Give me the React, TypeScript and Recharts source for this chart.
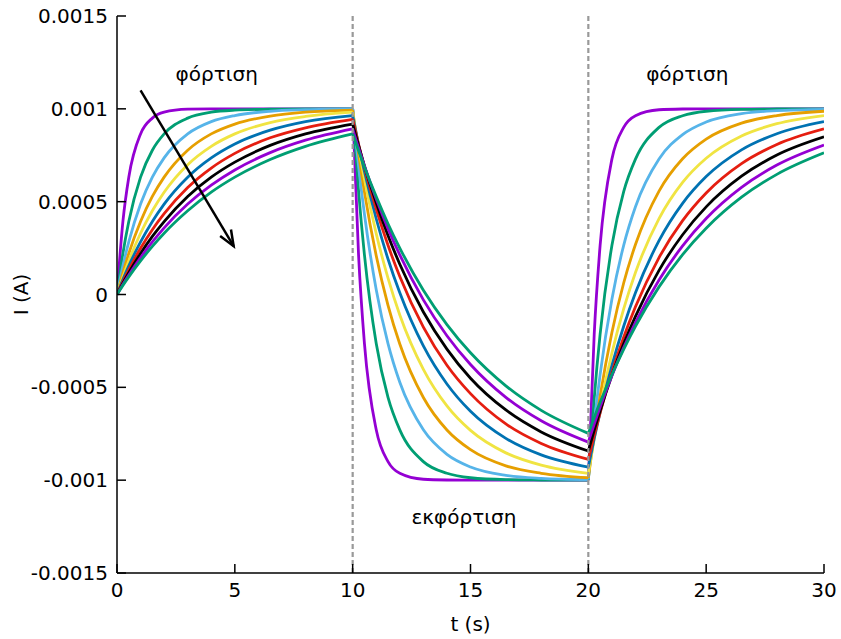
import React from 'react';
import { LineChart, Line, XAxis, YAxis, ReferenceLine, ReferenceDot, Label } from 'recharts';

// time offsets (s) inside each 10 s half-period
const OFFSETS = [0, 0.25, 0.5, 1, 1.5, 2, 3, 4, 5, 6.5, 8, 10];
const SEGMENT_START = [0, 10, 20];

const COLORS = ['#9400d3', '#009e73', '#56b4e9', '#e69f00', '#f0e442', '#0072b2', '#e51e10', '#000000', '#9400d3', '#009e73'];

// current in mA, one row per curve (fastest first)
const CHARGE_1 = [
  [0, 0.393, 0.632, 0.865, 0.950, 0.982, 0.998, 1.000, 1.000, 1.000, 1.000, 1.000],
  [0, 0.221, 0.393, 0.632, 0.777, 0.865, 0.950, 0.982, 0.993, 0.998, 1.000, 1.000],
  [0, 0.154, 0.283, 0.487, 0.632, 0.736, 0.865, 0.931, 0.964, 0.987, 0.995, 0.999],
  [0, 0.117, 0.221, 0.393, 0.528, 0.632, 0.777, 0.865, 0.918, 0.961, 0.982, 0.993],
  [0, 0.095, 0.181, 0.330, 0.451, 0.551, 0.699, 0.798, 0.865, 0.926, 0.959, 0.982],
  [0, 0.080, 0.154, 0.283, 0.393, 0.487, 0.632, 0.736, 0.811, 0.885, 0.931, 0.964],
  [0, 0.069, 0.133, 0.249, 0.349, 0.435, 0.576, 0.681, 0.760, 0.844, 0.898, 0.943],
  [0, 0.061, 0.117, 0.221, 0.313, 0.393, 0.528, 0.632, 0.713, 0.803, 0.865, 0.918],
  [0, 0.054, 0.105, 0.199, 0.283, 0.359, 0.487, 0.589, 0.671, 0.764, 0.831, 0.892],
  [0, 0.049, 0.095, 0.181, 0.259, 0.330, 0.451, 0.551, 0.632, 0.727, 0.798, 0.865],
];

const DISCHARGE = [
  [1.000, 0.213, -0.264, -0.729, -0.900, -0.963, -0.995, -0.999, -1.000, -1.000, -1.000, -1.000],
  [1.000, 0.558, 0.213, -0.264, -0.554, -0.729, -0.900, -0.963, -0.987, -0.997, -0.999, -1.000],
  [0.999, 0.692, 0.432, 0.026, -0.265, -0.473, -0.729, -0.861, -0.929, -0.974, -0.990, -0.997],
  [0.993, 0.759, 0.552, 0.209, -0.058, -0.267, -0.555, -0.730, -0.836, -0.923, -0.963, -0.987],
  [0.982, 0.793, 0.622, 0.328, 0.088, -0.110, -0.403, -0.600, -0.732, -0.853, -0.919, -0.964],
  [0.964, 0.807, 0.663, 0.408, 0.191, 0.009, -0.277, -0.482, -0.629, -0.775, -0.864, -0.930],
  [0.943, 0.809, 0.684, 0.460, 0.265, 0.097, -0.176, -0.381, -0.534, -0.697, -0.802, -0.888],
  [0.918, 0.802, 0.693, 0.494, 0.318, 0.163, -0.094, -0.294, -0.451, -0.622, -0.740, -0.843],
  [0.892, 0.789, 0.693, 0.515, 0.355, 0.213, -0.029, -0.222, -0.377, -0.554, -0.680, -0.795],
  [0.865, 0.774, 0.687, 0.527, 0.381, 0.250, 0.023, -0.162, -0.314, -0.492, -0.624, -0.748],
];

const CHARGE_2 = [
  [-1.000, -0.213, 0.264, 0.729, 0.900, 0.963, 0.995, 0.999, 1.000, 1.000, 1.000, 1.000],
  [-1.000, -0.558, -0.213, 0.264, 0.554, 0.729, 0.900, 0.963, 0.987, 0.997, 0.999, 1.000],
  [-0.997, -0.691, -0.431, -0.026, 0.265, 0.473, 0.730, 0.861, 0.929, 0.974, 0.990, 0.997],
  [-0.987, -0.753, -0.547, -0.205, 0.062, 0.269, 0.557, 0.731, 0.837, 0.923, 0.964, 0.987],
  [-0.964, -0.777, -0.608, -0.316, -0.078, 0.118, 0.409, 0.604, 0.734, 0.854, 0.920, 0.964],
  [-0.930, -0.776, -0.634, -0.383, -0.171, 0.009, 0.290, 0.491, 0.635, 0.779, 0.866, 0.931],
  [-0.888, -0.758, -0.637, -0.419, -0.230, -0.066, 0.199, 0.398, 0.547, 0.705, 0.808, 0.892],
  [-0.843, -0.731, -0.626, -0.435, -0.266, -0.118, 0.130, 0.322, 0.472, 0.637, 0.751, 0.849],
  [-0.795, -0.698, -0.606, -0.437, -0.286, -0.151, 0.078, 0.262, 0.409, 0.577, 0.697, 0.805],
  [-0.748, -0.662, -0.581, -0.431, -0.295, -0.171, 0.041, 0.215, 0.357, 0.524, 0.647, 0.763],
];

const X_TICKS = [0, 5, 10, 15, 20, 25, 30];
const Y_TICKS = [-0.0015, -0.001, -0.0005, 0, 0.0005, 0.001, 0.0015];

const FONT = 'DejaVu Sans, Verdana, sans-serif';
const FS = 20;

const segments = [CHARGE_1, DISCHARGE, CHARGE_2];
const series: { key: string; color: string; data: { t: number; I: number }[] }[] = [];
COLORS.forEach((color, c) => {
  segments.forEach((seg, s) => {
    series.push({
      key: `c${c}s${s}`,
      color,
      data: OFFSETS.map((d, i) => ({ t: SEGMENT_START[s] + d, I: seg[c][i] / 1000 })),
    });
  });
});

const Arrow = (props: any) => {
  const { x1, y1, x2, y2 } = props;
  if (x1 == null) return null;
  const ang = Math.atan2(y2 - y1, x2 - x1);
  const len = 17;
  const spread = 0.38;
  const ax = x2 - len * Math.cos(ang - spread);
  const ay = y2 - len * Math.sin(ang - spread);
  const bx = x2 - len * Math.cos(ang + spread);
  const by = y2 - len * Math.sin(ang + spread);
  return (
    <g stroke="#000" strokeWidth={2.5} fill="none">
      <line x1={x1} y1={y1} x2={x2} y2={y2} />
      <path d={`M${ax},${ay} L${x2},${y2} L${bx},${by}`} />
    </g>
  );
};

const note = (text: string) => (p: any) => (
  <text x={p.cx} y={p.cy} textAnchor="middle" dominantBaseline="central" fontSize={FS} fontFamily={FONT} fill="#000">
    {text}
  </text>
);

const axisStroke = { stroke: '#000', strokeWidth: 1.5 };

export default function App() {
  return (
    <div style={{ position: 'absolute', left: 0, top: 0 }}>
      <LineChart width={841} height={639} margin={{ top: 16, right: 17, bottom: 0, left: 0 }} style={{ fontFamily: FONT }}>
        <XAxis
          dataKey="t"
          type="number"
          domain={[0, 30]}
          ticks={X_TICKS}
          height={66}
          tickSize={-9}
          tickMargin={19}
          axisLine={axisStroke}
          tickLine={axisStroke}
          tick={{ fill: '#000', fontSize: FS }}
          allowDataOverflow
        >
          <Label
            content={({ viewBox }: any) => (
              <text x={viewBox.x + viewBox.width / 2} y={viewBox.y + 58} textAnchor="middle" fontSize={FS} fill="#000">
                t (s)
              </text>
            )}
          />
        </XAxis>
        <XAxis
          xAxisId="top"
          orientation="top"
          dataKey="t"
          type="number"
          domain={[0, 30]}
          ticks={X_TICKS}
          height={0}
          tickSize={-9}
          tickFormatter={() => ''}
          axisLine={axisStroke}
          tickLine={axisStroke}
        />
        <YAxis
          type="number"
          domain={[-0.0015, 0.0015]}
          ticks={Y_TICKS}
          width={117}
          tickSize={-9}
          tickMargin={18}
          tickFormatter={(v: number) => String(v)}
          axisLine={axisStroke}
          tickLine={axisStroke}
          tick={{ fill: '#000', fontSize: FS }}
          allowDataOverflow
        >
          <Label
            content={({ viewBox }: any) => {
              const x = viewBox.x + 21;
              const y = viewBox.y + viewBox.height / 2;
              return (
                <text x={x} y={y} transform={`rotate(-90 ${x} ${y})`} textAnchor="middle" dominantBaseline="central" fontSize={FS} fill="#000">
                  I (A)
                </text>
              );
            }}
          />
        </YAxis>
        <YAxis
          yAxisId="right"
          orientation="right"
          type="number"
          domain={[-0.0015, 0.0015]}
          ticks={Y_TICKS}
          width={0}
          tickSize={-9}
          tickFormatter={() => ''}
          axisLine={axisStroke}
          tickLine={axisStroke}
        />
        {series.map((s) => (
          <Line
            key={s.key}
            data={s.data}
            dataKey="I"
            type="monotone"
            stroke={s.color}
            strokeWidth={2.8}
            dot={false}
            isAnimationActive={false}
          />
        ))}
        <ReferenceLine x={10} stroke="#999" strokeWidth={2.2} strokeDasharray="5 3" />
        <ReferenceLine x={20} stroke="#999" strokeWidth={2.2} strokeDasharray="5 3" />
        <ReferenceLine
          segment={[{ x: 1, y: 0.0011 }, { x: 4.95, y: 0.00026 }]}
          shape={<Arrow />}
          ifOverflow="visible"
        />
        <ReferenceDot x={4.23} y={0.00119} r={0} shape={note('φόρτιση')} ifOverflow="visible" />
        <ReferenceDot x={14.72} y={-0.0012} r={0} shape={note('εκφόρτιση')} ifOverflow="visible" />
        <ReferenceDot x={24.2} y={0.00119} r={0} shape={note('φόρτιση')} ifOverflow="visible" />
      </LineChart>
    </div>
  );
}
